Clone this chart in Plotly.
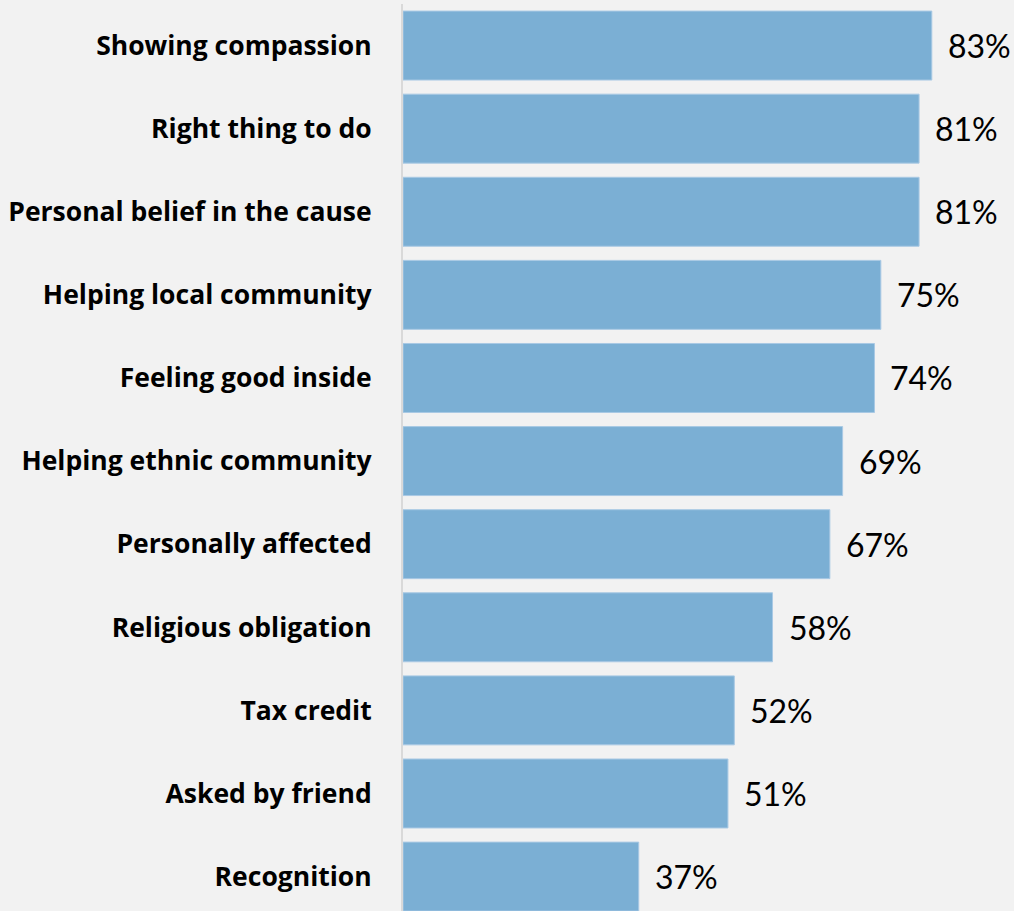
import plotly.graph_objects as go

categories = [
    "Showing compassion",
    "Right thing to do",
    "Personal belief in the cause",
    "Helping local community",
    "Feeling good inside",
    "Helping ethnic community",
    "Personally affected",
    "Religious obligation",
    "Tax credit",
    "Asked by friend",
    "Recognition",
]
values = [83, 81, 81, 75, 74, 69, 67, 58, 52, 51, 37]
value_labels = [f"{v}%" for v in values]

BG = "#f2f2f2"
BAR = "#7bafd4"

fig = go.Figure(
    go.Bar(
        x=values,
        y=categories,
        orientation="h",
        marker=dict(color=BAR, line=dict(color="#a9c9e4", width=1)),
        hoverinfo="skip",
    )
)

# percentage labels just past the end of each bar
for cat, v, lab in zip(categories, values, value_labels):
    fig.add_annotation(
        x=v, y=cat, text=lab, showarrow=False,
        xanchor="left", yanchor="middle", xshift=14,
        font=dict(family="Lato", size=32, color="#000000"),
    )

fig.update_layout(
    width=1014,
    height=911,
    margin=dict(l=403, r=0, t=4, b=0),
    paper_bgcolor=BG,
    plot_bgcolor=BG,
    bargap=0.17,
    showlegend=False,
    xaxis=dict(
        range=[0, 95.9],
        visible=False,
        fixedrange=True,
    ),
    yaxis=dict(
        type="category",
        categoryorder="array",
        categoryarray=categories,
        range=[10.414, -0.5],
        showline=True,
        linecolor="#d9d9d9",
        linewidth=2,
        showgrid=False,
        zeroline=False,
        ticks="",
        ticklabelstandoff=24,
        tickfont=dict(family="Open Sans", size=26.5, color="#000000", weight="bold"),
    ),
)

fig.write_html("out.html")
